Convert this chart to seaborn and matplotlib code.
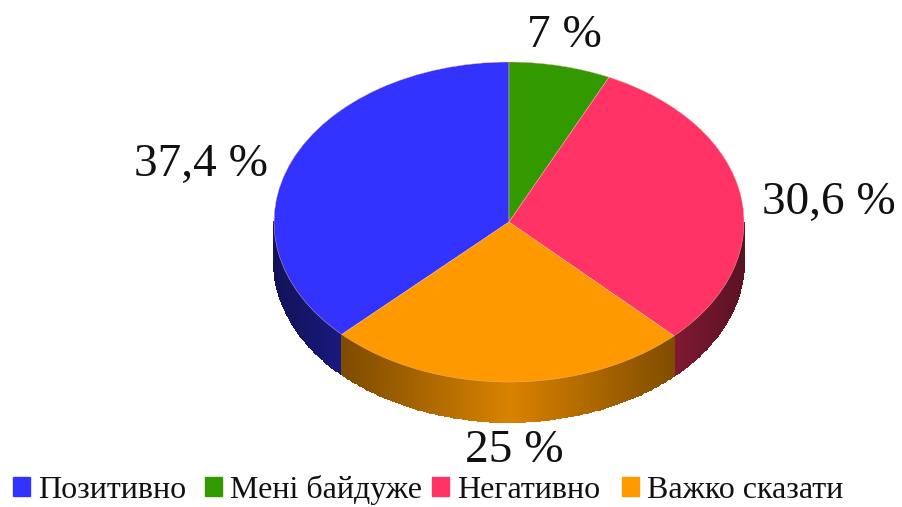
import numpy as np
import matplotlib
matplotlib.use("Agg")
import matplotlib.pyplot as plt
import seaborn as sns

categories = ["Позитивно", "Мені байдуже", "Негативно", "Важко сказати"]
values = [37.4, 7, 30.6, 25]
value_labels = ["37,4 %", "7 %", "30,6 %", "25 %"]
colors = ["#3333ff", "#339900", "#ff3366", "#ff9900"]

W, H = 902, 507
DEPTH = 0.25  # height of the rim, in pie radii

sns.set_theme(style="white", font="Liberation Serif")
palette = sns.color_palette(colors)

fig = plt.figure(figsize=(W / 100, H / 100), dpi=100)
# the axes span the ellipse of the top face, so the unit pie gets squashed
ax = fig.add_axes([274 / W, 1 - 382 / H, 470 / W, 320 / H])

start = 90 + values[0] / sum(values) * 360
wedges, _ = ax.pie(
    values,
    colors=palette,
    startangle=start,
    counterclock=False,
    wedgeprops={"edgecolor": "#f0b8a0", "linewidth": 0.3, "zorder": 3},
)
ax.set_aspect("auto")
ax.set_xlim(-1, 1)
ax.set_ylim(-1, 1)
ax.axis("off")
for w in wedges:
    w.set_clip_on(False)

# rim, only the part of each slice facing the viewer
edges = np.cumsum([0] + values) / sum(values) * 360 - values[0] / sum(values) * 360
for i, col in enumerate(palette):
    a0 = edges[i] + 360 if edges[i] < 0 else edges[i]
    a1 = a0 + values[i] / sum(values) * 360
    a0, a1 = max(a0, 90), min(a1, 270)
    if a1 <= a0:
        continue
    t = np.radians(np.linspace(a0, a1, 120))
    x = np.sin(t)
    y = np.cos(t)
    X = np.vstack([x, x])
    Y = np.vstack([y, y - DEPTH])
    xm = (x[:-1] + x[1:]) / 2
    shade = 0.85 - 0.5 * np.abs(xm)
    C = np.array(col)[None, None, :] * shade[None, :, None]
    mesh = ax.pcolormesh(X, Y, C, shading="flat", edgecolors="face", linewidth=0.3, zorder=1)
    mesh.set_clip_on(False)

label_pos = [(201, 165), (564, 36), (829, 203), (514, 451)]
for text, (px, py) in zip(value_labels, label_pos):
    fig.text(px / W, 1 - py / H, text, fontsize=34, color="#111111",
             ha="center", va="center")

# the entries are not evenly spaced, so each one gets its own legend
legend_x = [13, 205, 432, 622]
for name, col, px in zip(categories, palette, legend_x):
    fig.legend(
        [plt.Rectangle((0, 0), 1, 1, color=col)],
        [name],
        loc="center left",
        bbox_to_anchor=(px / W, 1 - 490 / H),
        frameon=False,
        fontsize=23,
        handlelength=0.53,
        handleheight=0.53,
        handletextpad=0.25,
        labelcolor="#111111",
        borderpad=0,
        borderaxespad=0,
    )

fig.savefig("out.png", dpi=100)
